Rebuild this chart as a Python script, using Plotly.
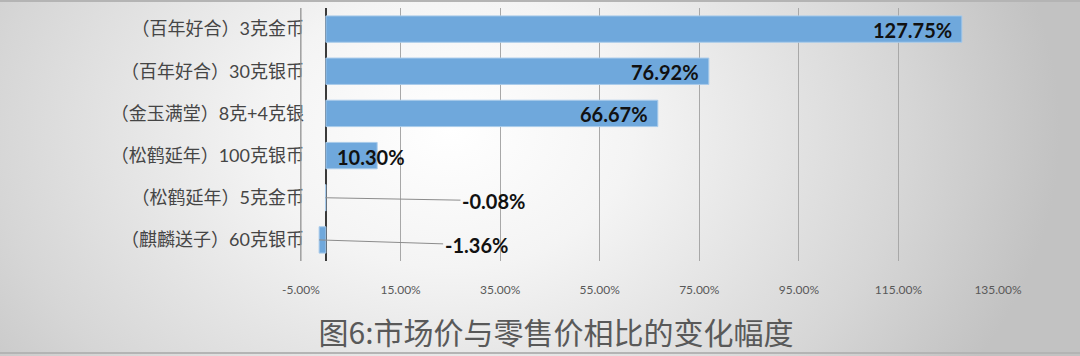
import base64
import plotly.graph_objects as go

# ---- data ----
categories = ["（百年好合）3克金币", "（百年好合）30克银币", "（金玉满堂）8克+4克银",
              "（松鹤延年）100克银币", "（松鹤延年）5克金币", "（麒麟送子）60克银币"]
values = [127.75, 76.92, 66.67, 10.30, -0.08, -1.36]
value_labels = ["127.75%", "76.92%", "66.67%", "10.30%", "-0.08%", "-1.36%"]
tick_vals = [-5, 15, 35, 55, 75, 95, 115, 135]
tick_text = ["-5.00%", "15.00%", "35.00%", "55.00%", "75.00%", "95.00%", "115.00%", "135.00%"]
title_text = "图6:市场价与零售价相比的变化幅度"

W, H = 1080, 356
L, R, T, B = 297, 82, 8, 95
pw, ph = W - L - R, H - T - B

# background gradient as svg
svg = f'''<svg xmlns="http://www.w3.org/2000/svg" width="{W}" height="{H}" viewBox="0 0 {W} {H}">
<defs><radialGradient id="g" gradientUnits="userSpaceOnUse" cx="450" cy="130" r="610" gradientTransform="translate(450 130) scale(1 0.75) translate(-450 -130)">
<stop offset="0" stop-color="#ffffff"/><stop offset="0.3" stop-color="#f4f4f4"/><stop offset="0.75" stop-color="#d6d6d6"/><stop offset="1" stop-color="#c2c2c2"/></radialGradient></defs>
<rect x="0" y="0" width="{W}" height="{H}" fill="url(#g)"/>
<rect x="0" y="0" width="{W}" height="2" fill="#b4b4b4"/>
<rect x="0" y="{H-4}" width="{W}" height="2" fill="#b4b4b4"/>
</svg>'''
src = "data:image/svg+xml;base64," + base64.b64encode(svg.encode()).decode()

fig = go.Figure()
fig.add_trace(go.Bar(
    x=values, y=categories, orientation="h",
    marker=dict(color="#6FA8DC", line=dict(color="#A9CBEA", width=1)),
    hoverinfo="skip",
))

annotations = []
lab_font = dict(family="Lato, Noto Sans CJK SC", size=20, color="#111111", weight="bold")
for i, (c, v, t) in enumerate(zip(categories, values, value_labels)):
    if v >= 20:
        annotations.append(dict(x=v, y=c, xref="x", yref="y", text=t, showarrow=False,
                                xanchor="right", xshift=-8, yshift=-1, font=lab_font))
    elif v >= 0:
        annotations.append(dict(x=0, y=c, xref="x", yref="y", text=t, showarrow=False,
                                xanchor="left", xshift=9, yshift=-1, font=lab_font))
    else:
        annotations.append(dict(x=v, y=c, xref="x", yref="y", text=t, showarrow=True,
                                arrowhead=0, arrowwidth=1, arrowcolor="#8c8c8c",
                                ax=(168 if v > -1 else 157), ay=(3 if v > -1 else 5),
                                font=lab_font))

fig.update_layout(
    width=W, height=H,
    margin=dict(l=L, r=R, t=T, b=B),
    paper_bgcolor="#dcdcdc",
    plot_bgcolor="rgba(0,0,0,0)",
    showlegend=False,
    bargap=0.375,
    title=dict(text=title_text, x=556 / W, xref="container", xanchor="center",
               y=1 - 333 / H, yref="container", yanchor="middle",
               font=dict(family="Noto Sans CJK SC", size=30, color="#595959")),
    xaxis=dict(range=[-5.8, 135.0], tickvals=tick_vals, ticktext=tick_text,
               showgrid=True, gridcolor="#a8a8a8", gridwidth=1,
               zeroline=True, zerolinecolor="#3a3a3a", zerolinewidth=2,
               showline=False, ticks="", automargin=False,
               tickfont=dict(family="Lato", size=12, color="#595959"), ticklabelstandoff=20),
    yaxis=dict(autorange="reversed", showgrid=False, ticks="", showline=False, automargin=False,
               tickfont=dict(family="Lato, Noto Sans CJK SC", size=18, color="#454545"),
               ticklabelstandoff=-8),
    annotations=annotations,
    shapes=[dict(type="line", xref="x", yref="paper", x0=tick_vals[0], x1=tick_vals[0],
                 y0=0, y1=1, line=dict(color="#a0a0a0", width=1.2), layer="above")],
    images=[dict(source=src, xref="paper", yref="paper", x=-L / pw, y=1 + T / ph,
                 sizex=W / pw, sizey=H / ph, xanchor="left", yanchor="top",
                 sizing="stretch", layer="below")],
)

fig.write_html("out.html", config={"displayModeBar": False},
               post_script="document.body.style.margin='0';document.body.style.overflow='hidden';")
